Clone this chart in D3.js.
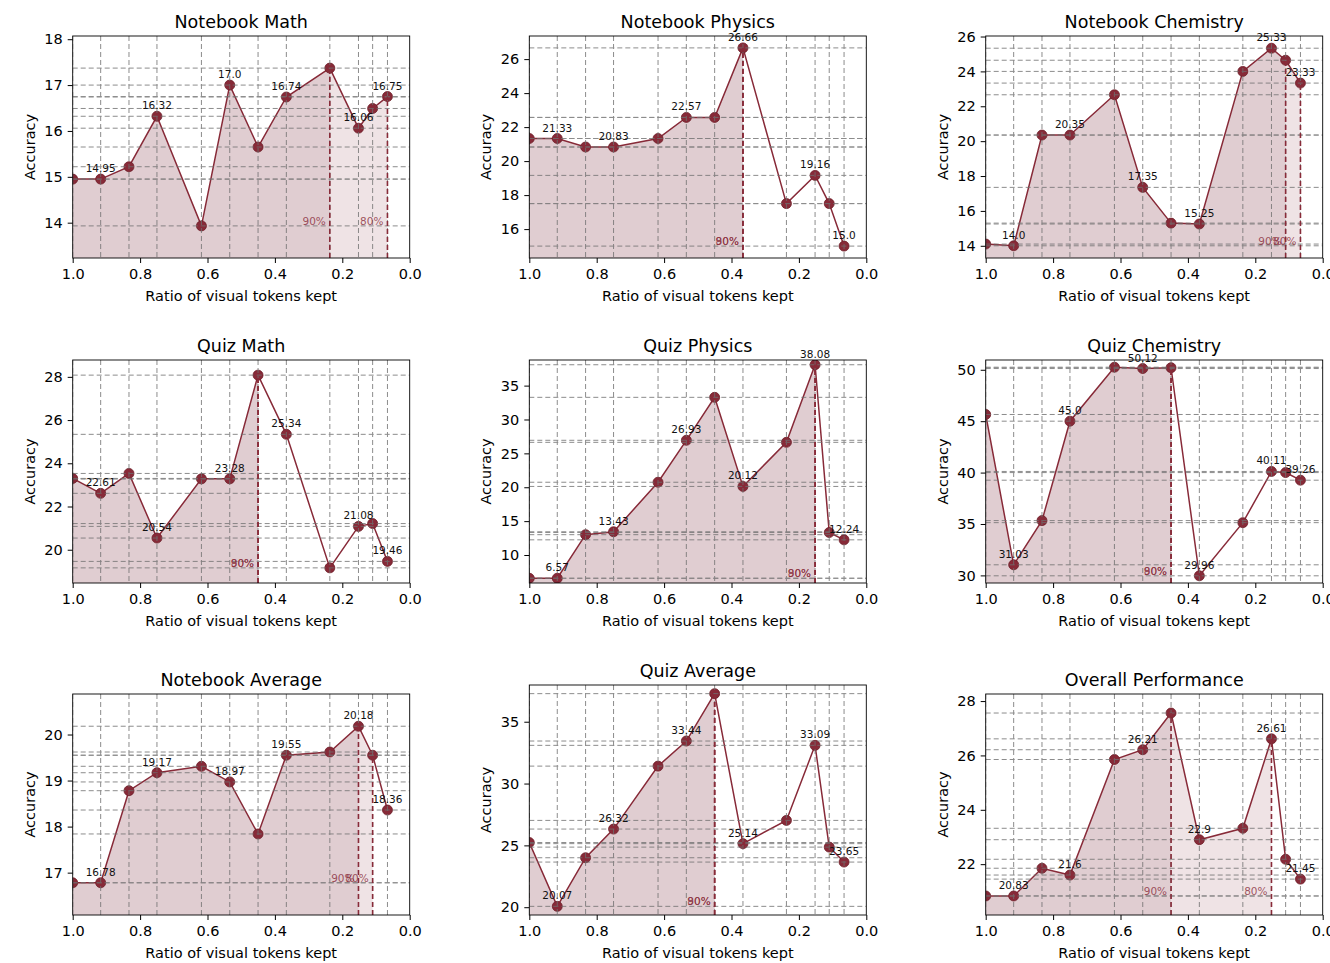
<!DOCTYPE html>
<html>
<head>
<meta charset="utf-8">
<script src="https://cdn.jsdelivr.net/npm/d3@7"></script>
<style>
  body { margin: 0; background: #fff; }
  svg { font-family: "DejaVu Sans", sans-serif; }
</style>
</head>
<body>
<svg width="1330" height="963"></svg>
<script>
// ratio of visual tokens kept (x positions of the 12 runs)
const ratios = [1.0, 0.917, 0.833, 0.75, 0.618, 0.534, 0.45, 0.366, 0.237, 0.152, 0.11, 0.066];

const titles = ["Notebook Math", "Notebook Physics", "Notebook Chemistry",
                "Quiz Math", "Quiz Physics", "Quiz Chemistry",
                "Notebook Average", "Quiz Average", "Overall Performance"];

const notebookMath      = [14.95, 14.95, 15.22, 16.32, 13.93, 17.0, 15.65, 16.74, 17.37, 16.06, 16.49, 16.75];
const notebookPhysics   = [21.33, 21.33, 20.83, 20.83, 21.33, 22.57, 22.57, 26.66, 17.5, 19.16, 17.5, 15.0];
const notebookChemistry = [14.1, 14.0, 20.35, 20.35, 22.66, 17.35, 15.3, 15.25, 24.0, 25.33, 24.64, 23.33];
const quizMath          = [23.3, 22.61, 23.53, 20.54, 23.28, 23.28, 28.08, 25.34, 19.16, 21.08, 21.21, 19.46];
const quizPhysics       = [6.57, 6.57, 13.0, 13.43, 20.74, 26.93, 33.27, 20.12, 26.63, 38.08, 13.32, 12.24];
const quizChemistry     = [45.65, 31.03, 35.33, 45.0, 50.25, 50.12, 50.2, 29.96, 35.13, 40.11, 40.0, 39.26];
const notebookAverage   = [16.78, 16.78, 18.78, 19.17, 19.31, 18.97, 17.84, 19.55, 19.62, 20.18, 19.55, 18.36];
const quizAverage       = [25.23, 20.07, 24.0, 26.32, 31.41, 33.44, 37.27, 25.14, 27.02, 33.09, 24.86, 23.65];
const overall           = [20.83, 20.83, 21.85, 21.6, 25.85, 26.21, 27.56, 22.9, 23.32, 26.61, 22.18, 21.45];

const panelValues = [notebookMath, notebookPhysics, notebookChemistry,
                     quizMath, quizPhysics, quizChemistry,
                     notebookAverage, quizAverage, overall];

// index of the run where the 90% / 80% marks sit
const idx90 = [8, 7, 10, 6, 9, 6, 9, 6, 6];
const idx80 = [11, 7, 11, 6, 9, 6, 10, 6, 9];

const yTicks = [[14, 15, 16, 17, 18], [16, 18, 20, 22, 24, 26], [14, 16, 18, 20, 22, 24, 26],
                [20, 22, 24, 26, 28], [10, 15, 20, 25, 30, 35], [30, 35, 40, 45, 50],
                [17, 18, 19, 20], [20, 25, 30, 35], [22, 24, 26, 28]];
const xTicks = [1.0, 0.8, 0.6, 0.4, 0.2, 0.0];

// layout
const colLeft = [72.7, 529.3, 985.7];
const axW = 337;
const rowTop = [36, 360, 694];
const rowBottom = [258, 583, 915];
const topOverride = { 7: 685 };

const red = "#882b39";
const svg = d3.select("svg");
const defs = svg.append("defs");

const fmt = v => Number.isInteger(v) ? v.toFixed(1) : String(v);

panelValues.forEach((vals, i) => {
  const col = i % 3, row = Math.floor(i / 3);
  const left = colLeft[col], right = left + axW;
  const top = topOverride[i] !== undefined ? topOverride[i] : rowTop[row];
  const bottom = rowBottom[row];

  const x = d3.scaleLinear().domain([1, 0]).range([left, right]);
  const y = d3.scaleLinear().domain([d3.min(vals) - 0.7, d3.max(vals) + 0.7]).range([bottom, top]);

  const data = vals.map((v, j) => ({ r: ratios[j], v, j }));
  const g = svg.append("g");

  defs.append("clipPath").attr("id", "clip" + i)
    .append("rect").attr("x", left).attr("y", top).attr("width", axW).attr("height", bottom - top);
  const plot = g.append("g").attr("clip-path", `url(#clip${i})`);

  const area = d3.area().x(d => x(d.r)).y0(bottom).y1(d => y(d.v));
  plot.append("path").datum(data.slice(0, idx80[i] + 1))
    .attr("d", area).attr("fill", "#efe3e5");
  plot.append("path").datum(data.slice(0, idx90[i] + 1))
    .attr("d", area).attr("fill", "#e0cdd1");

  // line + markers
  plot.append("path").datum(data)
    .attr("d", d3.line().x(d => x(d.r)).y(d => y(d.v)))
    .attr("fill", "none").attr("stroke", red).attr("stroke-width", 1.5);
  plot.selectAll("circle").data(data).enter().append("circle")
    .attr("cx", d => x(d.r)).attr("cy", d => y(d.v)).attr("r", 5)
    .attr("fill", red).attr("stroke", "#6e1f2a").attr("stroke-width", 0.8);

  // reference lines at every value and every ratio
  const grid = plot.append("g").attr("stroke", "#707070").attr("stroke-width", 1)
    .attr("stroke-dasharray", "5,3").attr("opacity", 0.8);
  grid.selectAll(".h").data(vals).enter().append("line")
    .attr("x1", left).attr("x2", right).attr("y1", d => y(d)).attr("y2", d => y(d));
  grid.selectAll(".v").data(ratios).enter().append("line")
    .attr("x1", d => x(d)).attr("x2", d => x(d)).attr("y1", top).attr("y2", bottom);

  // 90% / 80% markers
  const ymin = y(d3.min(vals));
  [[idx90[i], "90%"], [idx80[i], "80%"]].forEach(([k, lab]) => {
    plot.append("line")
      .attr("x1", x(ratios[k])).attr("x2", x(ratios[k]))
      .attr("y1", bottom).attr("y2", y(vals[k]))
      .attr("stroke", red).attr("stroke-width", 1.6).attr("stroke-dasharray", "5,3");
    g.append("text").attr("x", x(ratios[k]) - 4).attr("y", ymin - 1)
      .attr("text-anchor", "end").attr("font-size", 10.5)
      .attr("fill", red).attr("fill-opacity", 0.8).text(lab);
  });

  // value labels on every other point
  g.selectAll(".val").data(data.filter(d => d.j % 2 === 1)).enter().append("text")
    .attr("x", d => x(d.r)).attr("y", d => y(d.v) - 7)
    .attr("text-anchor", "middle").attr("font-size", 10.5).attr("fill", "#111")
    .text(d => fmt(d.v));

  // axes
  g.append("g").attr("transform", `translate(0,${bottom})`)
    .call(d3.axisBottom(x).tickValues(xTicks).tickFormat(d3.format(".1f")).tickSize(5).tickPadding(6))
    .call(a => a.select(".domain").remove())
    .call(a => a.selectAll("text").attr("font-size", 14.5).attr("font-family", "DejaVu Sans").attr("fill", "#000"));
  g.append("g").attr("transform", `translate(${left},0)`)
    .call(d3.axisLeft(y).tickValues(yTicks[i]).tickFormat(d3.format("d")).tickSize(5).tickPadding(5))
    .call(a => a.select(".domain").remove())
    .call(a => a.selectAll("text").attr("font-size", 14.5).attr("font-family", "DejaVu Sans").attr("fill", "#000"));

  g.append("rect").attr("x", left).attr("y", top).attr("width", axW).attr("height", bottom - top)
    .attr("fill", "none").attr("stroke", "#000").attr("stroke-width", 0.9);

  g.append("text").attr("x", left + axW / 2).attr("y", top - 8)
    .attr("text-anchor", "middle").attr("font-size", 17.5).text(titles[i]);
  g.append("text").attr("x", left + axW / 2).attr("y", bottom + 43)
    .attr("text-anchor", "middle").attr("font-size", 14.5).text("Ratio of visual tokens kept");
  g.append("text").attr("transform", `translate(${left - 38},${(top + bottom) / 2}) rotate(-90)`)
    .attr("text-anchor", "middle").attr("font-size", 14.5).text("Accuracy");
});
</script>
</body>
</html>
